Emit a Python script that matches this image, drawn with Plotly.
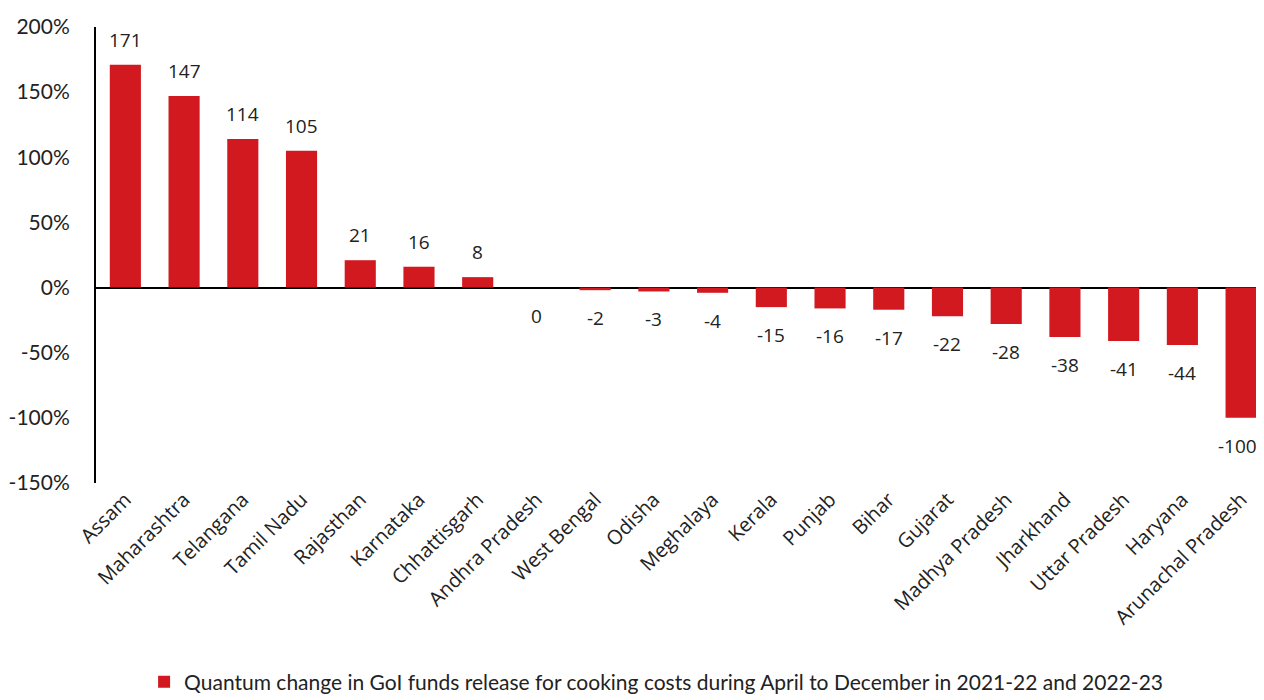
import plotly.graph_objects as go

states = ["Assam", "Maharashtra", "Telangana", "Tamil Nadu", "Rajasthan", "Karnataka",
          "Chhattisgarh", "Andhra Pradesh", "West Bengal", "Odisha", "Meghalaya", "Kerala",
          "Punjab", "Bihar", "Gujarat", "Madhya Pradesh", "Jharkhand", "Uttar Pradesh",
          "Haryana", "Arunachal Pradesh"]
change = [171, 147, 114, 105, 21, 16, 8, 0, -2, -3, -4, -15, -16, -17, -22, -28, -38, -41, -44, -100]
y_ticks = [-150, -100, -50, 0, 50, 100, 150, 200]
y_tick_text = [f"{v}%" for v in y_ticks]
series_name = "Quantum change in GoI funds release for cooking costs during April to December in 2021-22 and 2022-23"

RED = "#D1191F"
FONT = "Lato"
LABEL_FONT = "Open Sans"

fig = go.Figure()
fig.add_trace(go.Bar(
    x=list(range(len(states))), y=change, name=series_name,
    marker=dict(color=RED, line=dict(width=0)), width=0.53,
    showlegend=True,
))

n = len(change)
for i, v in enumerate(change):
    fig.add_annotation(x=i, y=v, text=str(v), showarrow=False,
                       yshift=25 if v > 0 else -28, yanchor="middle",
                       xshift=-4 if i == n - 1 else 0,
                       font=dict(family=LABEL_FONT, size=19, color="#222"))

# page body adds an 8px offset; figure is sized/margined to compensate
fig.update_layout(
    width=1256, height=692,
    margin=dict(l=88, r=0, t=19, b=217, autoexpand=False),
    plot_bgcolor="white", paper_bgcolor="white",
    font=dict(family=FONT, size=18, color="#222"),
    xaxis=dict(range=[-0.5, 19.39], tickmode="array", tickvals=list(range(len(states))),
               ticktext=states, tickangle=-45, showgrid=False, zeroline=False,
               showline=False, ticks="", automargin=False,
               tickfont=dict(family=LABEL_FONT, size=20, color="#222")),
    yaxis=dict(range=[-150, 200], tickmode="array", tickvals=y_ticks, ticktext=y_tick_text,
               showgrid=False, zeroline=True, zerolinecolor="black", zerolinewidth=2,
               showline=True, linecolor="black", linewidth=2, ticks="", automargin=False,
               ticklabelstandoff=20,
               tickfont=dict(family=FONT, size=21, color="#222")),
    legend=dict(orientation="h", xref="container", yref="container", x=0.516, y=0.026,
                xanchor="center", yanchor="middle", font=dict(family=FONT, size=21, color="#222"),
                itemwidth=30, tracegroupgap=0),
)

fig.write_html("out.html")
